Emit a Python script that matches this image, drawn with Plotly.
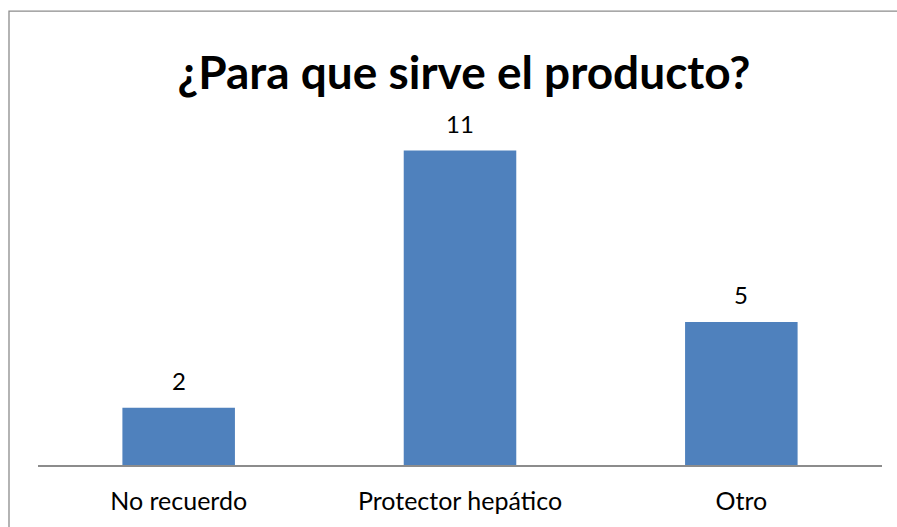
import plotly.graph_objects as go

categories = ["No recuerdo", "Protector hepático", "Otro"]
values = [2, 11, 5]
title_text = "¿Para que sirve el producto?"

W, H = 897, 527
L, R, T, B = 38, 15, 122, 57

fig = go.Figure()
fig.add_trace(go.Bar(
    x=categories, y=values,
    marker=dict(color="#4F81BD", line=dict(width=0)),
    width=0.4,
    hoverinfo="skip",
))

for c, v in zip(categories, values):
    fig.add_annotation(x=c, y=v, text=str(v), showarrow=False,
                       yanchor="bottom", yshift=11,
                       font=dict(family="Lato", size=24, color="#000000"))

pw = W - L - R
ph = H - T - B
fig.add_shape(type="rect", xref="paper", yref="paper",
              x0=(9 - L) / pw, x1=(W + 20 - L) / pw,
              y0=-(H + 20 - (H - B)) / ph, y1=1 + (T - 9.5) / ph,
              line=dict(color="#8c8c8c", width=1.3), fillcolor="rgba(0,0,0,0)")

fig.update_layout(
    width=W, height=H,
    margin=dict(l=L, r=R, t=T, b=B),
    paper_bgcolor="white", plot_bgcolor="white",
    showlegend=False,
    title=dict(text=f"<b>{title_text}</b>", x=464 / W, xanchor="center",
               y=1 - 73 / H, yanchor="middle", yref="container",
               font=dict(family="Lato", size=46, color="#000000")),
    xaxis=dict(showline=True, linecolor="#8c8c8c", linewidth=1.5,
               ticks="outside", ticklen=13, tickcolor="rgba(0,0,0,0)",
               tickfont=dict(family="Lato", size=25, color="#000000"),
               showgrid=False, zeroline=False),
    yaxis=dict(range=[0, 12], visible=False, showgrid=False, zeroline=False),
    bargap=0.6,
)

fig.write_html("out.html", config={"displayModeBar": False},
               post_script="document.body.style.margin='0';document.body.style.overflow='hidden';")
